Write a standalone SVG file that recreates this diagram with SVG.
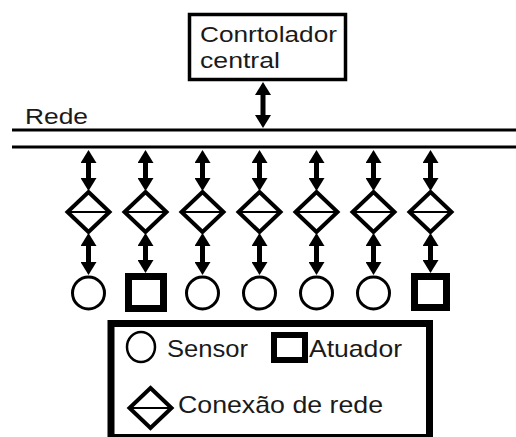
<svg xmlns="http://www.w3.org/2000/svg" width="516" height="437" viewBox="0 0 516 437">
  <style>
    .txt { font-family: "Liberation Sans", Arial, sans-serif; fill: #1a1a1a; }
    .shape { fill: #fff; stroke: #000; }
    .arrow { stroke: #000; stroke-width: 5; fill: none; marker-start: url(#head); marker-end: url(#head); }
    .bus { stroke: #000; stroke-width: 3; }
  </style>
  <defs>
    <marker id="head" viewBox="0 0 13 16" refX="5" refY="8" markerWidth="13" markerHeight="16" markerUnits="userSpaceOnUse" orient="auto-start-reverse">
      <path d="M0,0 L13,8 L0,16 z" fill="#000"/>
    </marker>
    <g id="diamond">
      <path d="M0,-20 L21,0 L0,20 L-21,0 z" class="shape" stroke-width="4"/>
      <line x1="-19" y1="0" x2="19" y2="0" stroke="#000" stroke-width="2"/>
    </g>
  </defs>
  <rect width="516" height="437" fill="#fff"/>

  <g id="controlador">
    <rect x="189.5" y="14.5" width="156" height="65" class="shape" stroke-width="3.5"/>
    <text x="200" y="42" class="txt" font-size="22" textLength="137" lengthAdjust="spacingAndGlyphs">Conrtolador</text>
    <text x="200" y="68" class="txt" font-size="22" textLength="80" lengthAdjust="spacingAndGlyphs">central</text>
  </g>

  <g id="rede">
    <line x1="12" y1="130" x2="516" y2="130" class="bus"/>
    <line x1="12" y1="147" x2="516" y2="147" class="bus"/>
    <text x="25" y="124" class="txt" font-size="22" textLength="63" lengthAdjust="spacingAndGlyphs">Rede</text>
  </g>

  <g id="connectors">
    <line x1="263" y1="90" x2="263" y2="120" class="arrow"/>
    <g id="upper">
      <line x1="88.5" y1="158" x2="88.5" y2="183" class="arrow"/>
      <line x1="145.5" y1="158" x2="145.5" y2="183" class="arrow"/>
      <line x1="202.5" y1="158" x2="202.5" y2="183" class="arrow"/>
      <line x1="259.5" y1="158" x2="259.5" y2="183" class="arrow"/>
      <line x1="316.5" y1="158" x2="316.5" y2="183" class="arrow"/>
      <line x1="373.5" y1="158" x2="373.5" y2="183" class="arrow"/>
      <line x1="430.5" y1="158" x2="430.5" y2="183" class="arrow"/>
    </g>
    <g id="lower">
      <line x1="88.5" y1="241" x2="88.5" y2="267" class="arrow"/>
      <line x1="145.5" y1="241" x2="145.5" y2="265" class="arrow"/>
      <line x1="202.5" y1="241" x2="202.5" y2="267" class="arrow"/>
      <line x1="259.5" y1="241" x2="259.5" y2="267" class="arrow"/>
      <line x1="316.5" y1="241" x2="316.5" y2="267" class="arrow"/>
      <line x1="373.5" y1="241" x2="373.5" y2="267" class="arrow"/>
      <line x1="430.5" y1="241" x2="430.5" y2="265" class="arrow"/>
    </g>
  </g>

  <g id="conexoes">
    <use href="#diamond" x="88.5" y="212"/>
    <use href="#diamond" x="145.5" y="212"/>
    <use href="#diamond" x="202.5" y="212"/>
    <use href="#diamond" x="259.5" y="212"/>
    <use href="#diamond" x="316.5" y="212"/>
    <use href="#diamond" x="373.5" y="212"/>
    <use href="#diamond" x="430.5" y="212"/>
  </g>

  <g id="sensor1"><circle cx="88.5" cy="293" r="16" class="shape" stroke-width="3"/></g>
  <g id="atuador1"><rect x="128.5" y="276.5" width="35" height="32" class="shape" stroke-width="7"/></g>
  <g id="sensor2"><circle cx="202.5" cy="293" r="16" class="shape" stroke-width="3"/></g>
  <g id="sensor3"><circle cx="259.5" cy="293" r="16" class="shape" stroke-width="3"/></g>
  <g id="sensor4"><circle cx="316.5" cy="293" r="16" class="shape" stroke-width="3"/></g>
  <g id="sensor5"><circle cx="373.5" cy="293" r="16" class="shape" stroke-width="3"/></g>
  <g id="atuador2"><rect x="414.5" y="276.5" width="32" height="31" class="shape" stroke-width="7"/></g>

  <g id="legenda">
    <rect x="111" y="323.5" width="318.5" height="114" class="shape" stroke-width="7"/>
    <ellipse cx="141" cy="347" rx="14" ry="15" class="shape" stroke-width="2.5"/>
    <text x="167" y="357" class="txt" font-size="24" textLength="81" lengthAdjust="spacingAndGlyphs">Sensor</text>
    <rect x="274" y="335" width="31" height="25" class="shape" stroke-width="6"/>
    <text x="309" y="357" class="txt" font-size="24" textLength="93" lengthAdjust="spacingAndGlyphs">Atuador</text>
    <use href="#diamond" x="150.5" y="408"/>
    <text x="178" y="413" class="txt" font-size="24" textLength="205" lengthAdjust="spacingAndGlyphs">Conexão de rede</text>
  </g>
</svg>
